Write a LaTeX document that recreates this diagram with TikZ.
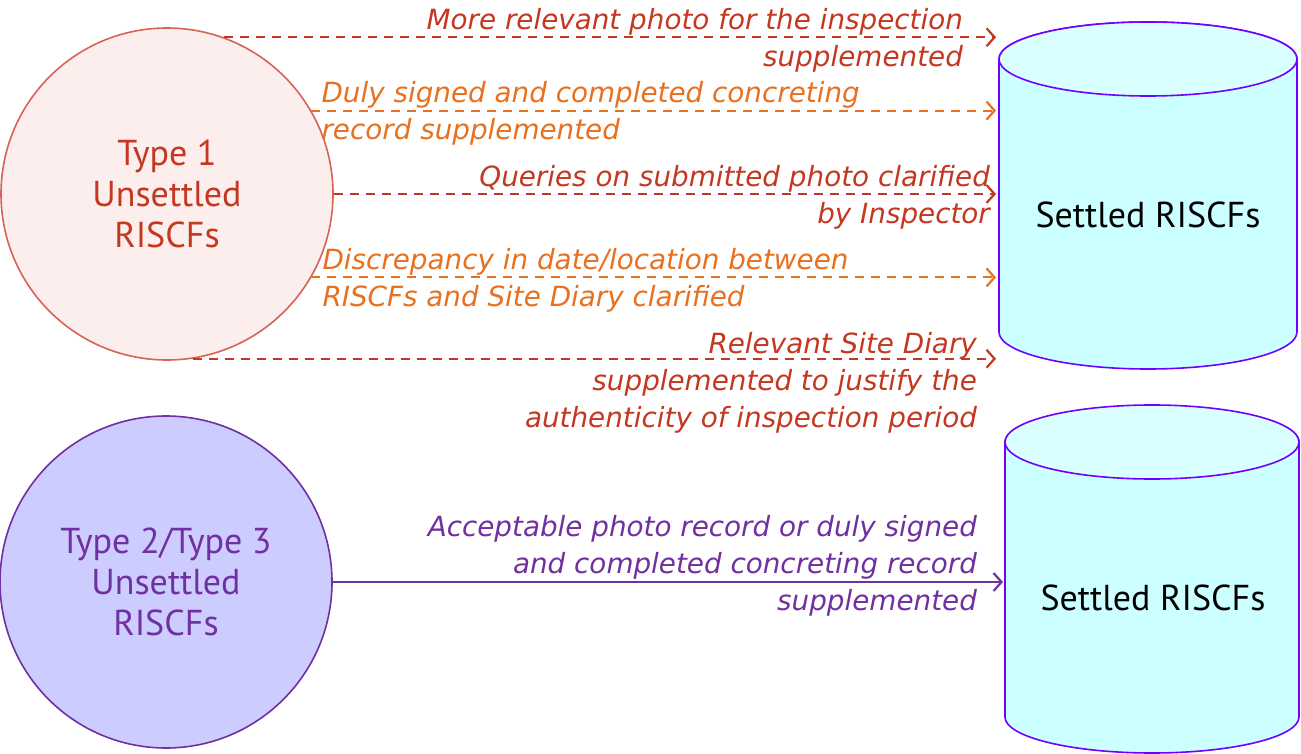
\documentclass[tikz,border=0pt]{standalone}
\usepackage{fontspec}
\setmainfont{PT Sans}
\newfontfamily\notefont{DejaVu Sans}
\usetikzlibrary{arrows.meta}
\definecolor{rustred}{RGB}{196,55,32}
\definecolor{ochre}{RGB}{232,112,30}
\definecolor{plum}{RGB}{112,48,160}
\definecolor{rimred}{RGB}{214,100,86}
\definecolor{blush}{RGB}{251,238,236}
\definecolor{lavender}{RGB}{204,204,255}
\definecolor{tankrim}{RGB}{112,0,255}
\definecolor{tankbody}{RGB}{204,255,255}
\definecolor{tanktop}{RGB}{218,255,255}
\begin{document}
\begin{tikzpicture}[x=1pt, y=-1pt,
unsettled/.style = {draw, circle, line width=1.6pt, minimum size=332pt, inner sep=0pt, align=center, font=\fontsize{36}{41}\selectfont},
flow/.style = {line width=2.2pt, dash pattern=on 9pt off 7pt, -{Straight Barb[length=8pt,width=18pt]}},
note/.style = {inner sep=0pt, yshift=-3pt, font=\notefont\fontsize{27.8}{37}\selectfont\itshape},
tank/.style = {draw=tankrim, line width=1.6pt}]
    \useasboundingbox (0,0) rectangle (1301,754);

    % unsettled RISCFs
    \node[unsettled, draw=rimred, fill=blush, text=rustred] (c1) at (167,194) {Type 1\\Unsettled\\RISCFs};
    \node[unsettled, draw=plum, fill=lavender, text=plum] (c2) at (166,582) {Type 2/Type 3\\Unsettled\\RISCFs};

    % settled RISCFs
    \filldraw[tank, fill=tankbody] (999,59) -- (999,332) arc[start angle=180, end angle=360, x radius=149pt, y radius=37pt] -- (1297,59) arc[start angle=0, end angle=180, x radius=149pt, y radius=37pt] -- cycle;
    \filldraw[tank, fill=tanktop] (1148,59) ellipse[x radius=149pt, y radius=37pt];
    \filldraw[tank, fill=tankbody] (1005,442) -- (1005,717) arc[start angle=180, end angle=360, x radius=147pt, y radius=36pt] -- (1299,442) arc[start angle=0, end angle=180, x radius=147pt, y radius=36pt] -- cycle;
    \filldraw[tank, fill=tanktop] (1152,442) ellipse[x radius=147pt, y radius=37pt];
    \node[font=\fontsize{36}{41}\selectfont] (s1) at (1148,215) {Settled RISCFs};
    \node[font=\fontsize{36}{41}\selectfont] (s2) at (1153,598) {Settled RISCFs};
    \coordinate (t1) at (996,0);
    \coordinate (t2) at (1003,0);

    % type 1 routes
    \draw[flow, rustred] (c1.70) -- (c1.70 -| t1)
        node[note, anchor=east, xshift=-32pt, align=right] (n1) {More relevant photo for the inspection\\supplemented};
    \draw[flow, ochre] (c1.30) -- (c1.30 -| t1)
        node[note, anchor=west, at start, xshift=9pt, align=left] (n2) {Duly signed and completed concreting\\record supplemented};
    \draw[flow, rustred] (c1.east) -- (c1.east -| t1)
        node[note, anchor=east, xshift=-5pt, align=right] (n3) {Queries on submitted photo clarified\\by Inspector};
    \draw[flow, ochre] (c1.-30) -- (c1.-30 -| t1)
        node[note, anchor=west, at start, xshift=10pt, align=left] (n4) {Discrepancy in date/location between\\RISCFs and Site Diary clarified};
    \draw[flow, rustred] (c1.-81) -- (c1.-81 -| t1)
        node[note, anchor=east, xshift=-18pt, yshift=-21pt, align=right] (n5) {Relevant Site Diary\\supplemented to justify the\\authenticity of inspection period};

    % type 2/3 route
    \draw[plum, line width=2.2pt, -{Straight Barb[length=8pt,width=18pt]}] (c2.east) -- (c2.east -| t2)
        node[note, anchor=east, xshift=-25pt, yshift=19pt, align=right] (n6) {Acceptable photo record or duly signed\\and completed concreting record\\supplemented};
\end{tikzpicture}
\end{document}
